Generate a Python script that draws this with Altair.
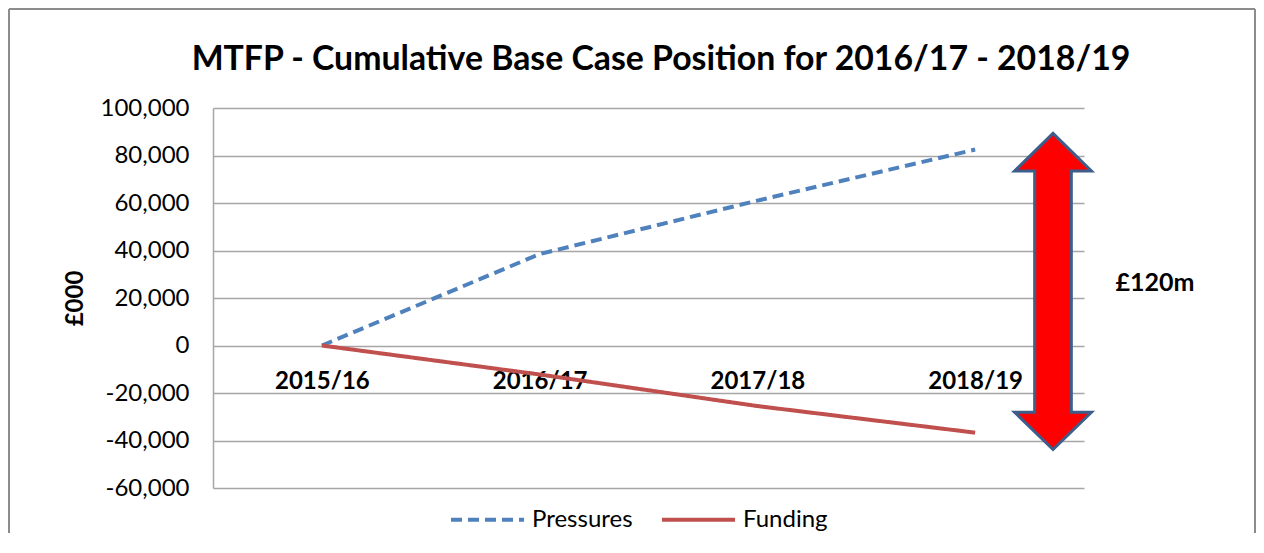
import altair as alt
import pandas as pd

years = ["2015/16", "2016/17", "2017/18", "2018/19"]
pressures = [0, 38500, 61000, 82500]
funding = [0, -12200, -25500, -36700]
series_names = ["Pressures", "Funding"]
series_colors = ["#4F81BD", "#C0504D"]
series_dashes = [[11, 6], [1, 0]]
y_ticks = [-60000, -40000, -20000, 0, 20000, 40000, 60000, 80000, 100000]
arrow_span = [-43800, 89300]
arrow_label = ["£120m"]
arrow_label_value = [26500]
title_text = "MTFP - Cumulative Base Case Position for 2016/17 - 2018/19"
y_title = "£000"

W, H = 871, 380
FONT = "Lato"
GRID = "#A6A6A6"

rows = []
for name, vals in zip(series_names, [pressures, funding]):
    for yr, v in zip(years, vals):
        rows.append({"year": yr, "series": name, "value": v})
df = pd.DataFrame(rows)

y_scale = alt.Scale(domain=[y_ticks[0], y_ticks[-1]], nice=False, zero=False)
x_scale = alt.Scale(type="point", domain=years, padding=0.5)
y_axis = alt.Axis(values=y_ticks, labelExpr="replace(format(datum.value, ',.0f'), '\u2212', '-')",
                  title=y_title, ticks=False,
                  domain=True, domainColor=GRID, domainWidth=1.5,
                  grid=True, gridColor=GRID, gridWidth=1.5,
                  labelFont=FONT, labelFontSize=24, labelColor="black",
                  labelPadding=24, titleFont=FONT, titleFontSize=24,
                  titleFontWeight="bold", titleColor="black",
                  titleX=-138, titleY=190, titleAngle=270,
                  titleAlign="center", titleBaseline="middle")

lines = alt.Chart(df).mark_line(strokeWidth=4, strokeCap="butt").encode(
    x=alt.X("year:N", scale=x_scale, sort=years,
            axis=alt.Axis(title=None, orient="bottom", offset=-142, domain=False,
                          ticks=False, grid=False, labelAngle=0, labelFont=FONT,
                          labelFontSize=24, labelFontWeight="bold", labelColor="black",
                          labelPadding=23)),
    y=alt.Y("value:Q", scale=y_scale, axis=y_axis),
    color=alt.Color("series:N", scale=alt.Scale(domain=series_names, range=series_colors),
                    title=None),
    strokeDash=alt.StrokeDash("series:N", scale=alt.Scale(domain=series_names, range=series_dashes),
                              title=None),
)

ppu = H / (y_ticks[-1] - y_ticks[0])
arrow_px = (arrow_span[1] - arrow_span[0]) * ppu
arrow_shape = ("M0,-1L0.243,-0.762L0.116,-0.762L0.116,0.764L0.243,0.764L0,1"
               "L-0.243,0.764L-0.116,0.764L-0.116,-0.762L-0.243,-0.762Z")
arrow_df = pd.DataFrame({"value": [sum(arrow_span) / 2]})
arrow = alt.Chart(arrow_df).mark_point(
    shape=arrow_shape, size=arrow_px ** 2, filled=True, fill="#FF0000",
    stroke="#3D5E8A", strokeWidth=3, opacity=1, fillOpacity=1, strokeOpacity=1
).encode(x=alt.value(840), y=alt.Y("value:Q", scale=y_scale, axis=y_axis))

label_df = pd.DataFrame({"t": arrow_label, "value": arrow_label_value})
label = alt.Chart(label_df).mark_text(
    font=FONT, fontSize=25, fontWeight="bold", color="black", align="center",
    baseline="middle"
).encode(x=alt.value(942), y=alt.Y("value:Q", scale=y_scale, axis=y_axis), text="t:N")

title = alt.Chart(pd.DataFrame({"t": [title_text]})).mark_text(
    font=FONT, fontSize=33.8, fontWeight="bold", color="black", align="center",
    baseline="middle"
).encode(x=alt.value(448), y=alt.value(-48), text="t:N")

border_df = pd.DataFrame({"k": [0]})
b_top = alt.Chart(border_df).mark_rule(color="#8C8C8C", strokeWidth=2).encode(
    x=alt.value(-204), x2=alt.value(1042), y=alt.value(-99))
b_left = alt.Chart(border_df).mark_rule(color="#8C8C8C", strokeWidth=2).encode(
    x=alt.value(-204), y=alt.value(-99), y2=alt.value(430))
b_right = alt.Chart(border_df).mark_rule(color="#8C8C8C", strokeWidth=2).encode(
    x=alt.value(1042), y=alt.value(-99), y2=alt.value(430))

chart = alt.layer(lines, arrow, label, title, b_top, b_left, b_right).properties(
    width=W, height=H,
    autosize=alt.AutoSizeParams(type="none"),
    padding={"left": 205, "top": 100, "right": 172, "bottom": 45},
).configure_view(stroke=None).configure_legend(
    orient="none", legendX=236, legendY=373, direction="horizontal",
    symbolType="stroke", symbolSize=5329, symbolStrokeWidth=4,
    labelFont=FONT, labelFontSize=24, labelColor="black", labelOffset=6,
    columnPadding=21, padding=0
)

chart.save("out.html", embed_options={"renderer": "svg", "actions": False})
